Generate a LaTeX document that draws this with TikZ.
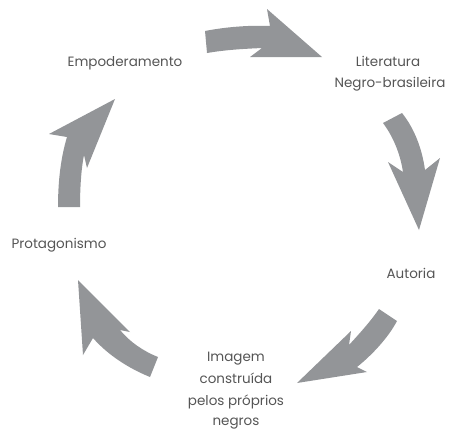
\documentclass[tikz,border=0pt]{standalone}
\usepackage{fontspec}
\setmainfont{Poppins}
\definecolor{arrowgray}{RGB}{147,149,152}
\definecolor{textgray}{RGB}{85,85,85}
\begin{document}
\begin{tikzpicture}[x=1pt,y=-1pt,
  cyclearrow/.style={fill=arrowgray,draw=none},
  lbl/.style={anchor=base,text=textgray,font=\fontsize{13.5}{21.5}\selectfont,inner sep=0pt,align=center}]
\useasboundingbox (0,0) rectangle (451,429);
% arrows
\path[cyclearrow] (205,31) .. controls (225,27) and (250,25) .. (270,26) -- (267,9) -- (322,57) -- (250,57) -- (262,48) .. controls (240,49) and (225,50) .. (207,53) -- cycle;
\path[cyclearrow] (383,123) .. controls (392,135) and (400,152) .. (403,172) -- (388,162) -- (419,230) -- (440,158) -- (425,170) .. controls (422,148) and (414,128) .. (402,113) -- cycle;
\path[cyclearrow] (379,309) .. controls (370,322) and (360,333) .. (349,345) -- (351,331) -- (297,383) -- (367,372) -- (357,367) .. controls (372,355) and (388,338) .. (397,321) -- cycle;
\path[cyclearrow] (78,280) -- (130,332) -- (120,330) .. controls (130,342) and (143,351) .. (158,357) -- (150,377) .. controls (128,368) and (108,355) .. (93,338) -- (83,355) -- cycle;
\path[cyclearrow] (115,99) -- (87,168) -- (84,155) .. controls (81,170) and (80,190) .. (80,207) -- (58,207) .. controls (58,180) and (61,157) .. (67,137) -- (49,134) -- cycle;
% labels
\node[lbl] (emp) at (125,66) {Empoderamento};
\node[lbl] (lit1) at (388,66) {Literatura};
\node[lbl] (lit2) at (390,87) {Negro-brasileira};
\node[lbl] (aut) at (411,278) {Autoria};
\node[lbl] (im1) at (236,361) {Imagem};
\node[lbl] (im2) at (236,383) {construída};
\node[lbl] (im3) at (236,405) {pelos próprios};
\node[lbl] (im4) at (236,425) {negros};
\node[lbl] (pro) at (59,248) {Protagonismo};
\end{tikzpicture}
\end{document}
